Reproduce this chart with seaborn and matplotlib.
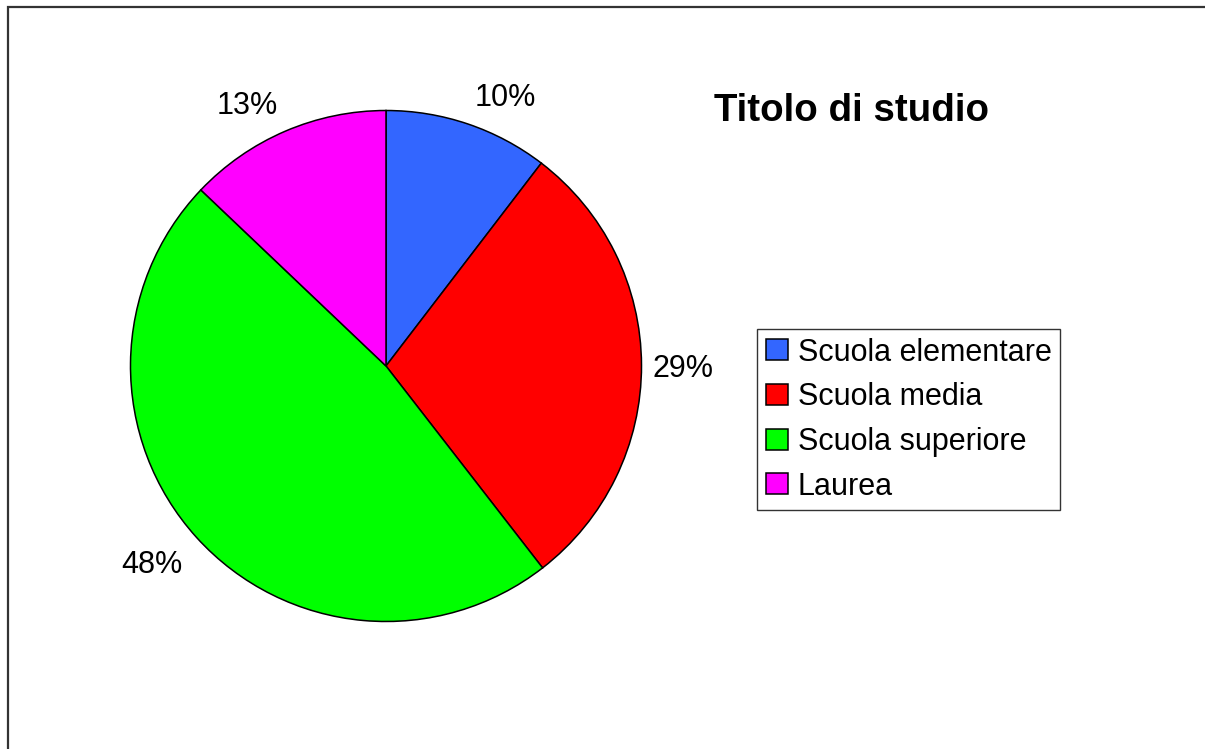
import matplotlib
matplotlib.use("Agg")
import numpy as np
import matplotlib.pyplot as plt
import seaborn as sns
from matplotlib.patches import Rectangle

categories = ["Scuola elementare", "Scuola media", "Scuola superiore", "Laurea"]
values = [10.4, 29.1, 47.6, 12.9]
colors = ["#3366FF", "#FF0000", "#00FF00", "#FF00FF"]
title = "Titolo di studio"

sns.set_theme(style="white")
plt.rcParams["font.family"] = ["Liberation Sans", "DejaVu Sans"]
plt.rcParams["text.color"] = "black"
palette = sns.color_palette(colors)

W, H = 1205, 749
fig = plt.figure(figsize=(W / 100, H / 100), dpi=100)
fig.patch.set_facecolor("white")

# outer chart frame (left and top edges visible, others cut off)
fig.patches.append(Rectangle((8 / W, -0.1), 1.2, 1 - 7 / H + 0.1, transform=fig.transFigure,
                             fill=False, edgecolor="#333333", linewidth=1.6, zorder=0))

cx, cy, R = 386, 366, 255.5
ax = fig.add_axes([(cx - R) / W, (H - cy - R) / H, 2 * R / W, 2 * R / H])
total = sum(values)
labels = [f"{v / total * 100:.0f}%" for v in values]
wedges, _ = ax.pie(values, colors=palette, startangle=90, counterclock=False,
                   wedgeprops=dict(edgecolor="black", linewidth=1.1))
ax.set_xlim(-1, 1)
ax.set_ylim(-1, 1)
ax.set_aspect("equal")
ax.axis("off")

# data labels placed just outside each wedge, Excel-style alignment
for w, lab in zip(wedges, labels):
    ang = np.deg2rad((w.theta1 + w.theta2) / 2)
    c, s = np.cos(ang), np.sin(ang)
    ha = "left" if c > 0.15 else ("right" if c < -0.15 else "center")
    va = "baseline" if s > 0.35 else ("top" if s < -0.35 else "center_baseline")
    dist = 1.045 if va == "center_baseline" else 1.075
    ax.text(dist * c, dist * s, lab, ha=ha, va=va, fontsize=22, color="black",
            clip_on=False)

fig.text(852 / W, 1 - 111 / H, title, fontsize=27.7, fontweight="bold",
         ha="center", va="center", color="black")

leg = fig.legend(wedges, categories, loc="upper left",
                 bbox_to_anchor=(757 / W, 1 - 329 / H), fontsize=22,
                 frameon=True, fancybox=False, shadow=False,
                 handlelength=0.72, handleheight=0.69, handletextpad=0.33,
                 labelspacing=0.48, borderpad=0.28, borderaxespad=0)
leg.get_frame().set_edgecolor("black")
leg.get_frame().set_linewidth(1.0)
for t in leg.get_texts():
    t.set_color("black")

fig.savefig("out.png", dpi=100, facecolor="white")
